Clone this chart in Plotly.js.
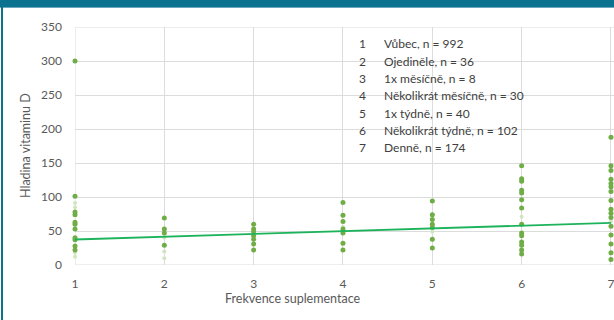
<!DOCTYPE html>
<html><head><meta charset="utf-8">
<script src="https://cdn.plot.ly/plotly-3.0.1.min.js"></script>
<style>
html,body{margin:0;padding:0;background:#fff;}
#wrap{position:relative;width:614px;height:320px;overflow:hidden;}
#chart{position:absolute;left:0;top:0;width:614px;height:320px;}
#topbar{position:absolute;left:0;top:0;width:614px;height:7px;background:#0b7290;border-bottom:1px solid #6aa9bd;pointer-events:none;}
#leftbar{position:absolute;left:1px;top:0;width:2px;height:320px;background:#0b7290;pointer-events:none;}
</style></head>
<body><div id="wrap"><div id="chart"></div><div id="topbar"></div><div id="leftbar"></div></div>
<script>
// Frekvence suplementace (1..7) and vitamin D levels
const freqSolid = [1,1,1,1,1,1,1,1,1,1,1,
  2,2,2,2,
  3,3,3,3,3,3,3,
  4,4,4,4,4,4,4,
  5,5,5,5,5,5,5,
  6,6,6,6,6,6,6,6,6,6,6,6,6,6,
  7,7,7,7,7,7,7,7,7,7,7,7,7,7,7,7];
const vitDSolid = [300,101,78,74,63,60,53,40,37,28,22,
  69,53,47,29,
  60,53,49,43,38,31,22,
  92,73,64,53,47,32,22,
  94,74,67,60,55,38,25,
  146,127,123,110,106,96,84,60,47,43,34,29,22,16,
  188,146,139,126,120,115,108,95,82,76,70,57,44,31,18,8];
const freqFaint = [1,1,1,1,2,2,2,4,5,6,7];
const vitDFaint = [91,85,18,12,40,20,10,56,49,71,64];
// Linear trend endpoints
const trendX = [1,7];
const trendY = [37.5,62];
// Legend box text
const legendNums = ["1","2","3","4","5","6","7"];
const legendLabels = ["Vůbec, n = 992","Ojediněle, n = 36","1x měsíčně, n = 8","Několikrát měsíčně, n = 30","1x týdně, n = 40","Několikrát týdně, n = 102","Denně, n = 174"];
const xTicks = [1,2,3,4,5,6,7];
const yTicks = [0,50,100,150,200,250,300,350];

const FONT = "Lato, 'Open Sans', sans-serif";
const L=75, T=27, B=55, PW=539, PH=238;
const traces = [
  {x:freqFaint, y:vitDFaint, type:'scatter', mode:'markers', marker:{color:'#cfe6c0', size:4}, cliponaxis:false, hoverinfo:'x+y'},
  {x:freqSolid, y:vitDSolid, type:'scatter', mode:'markers', marker:{color:'#70ad47', size:5}, cliponaxis:false, hoverinfo:'x+y'},
  {x:trendX, y:trendY, type:'scatter', mode:'lines', line:{color:'#1db35a', width:1.8}, cliponaxis:false}
];
const annotations = [];
const px2paperX = p => (p-L)/PW;
const px2paperY = p => (320-B-p)/PH;
legendNums.forEach((n,i)=>{
  const py = 44 + i*17.3;
  annotations.push({xref:'paper', yref:'paper', x:px2paperX(357), y:px2paperY(py), text:n, showarrow:false, xanchor:'left', yanchor:'middle', font:{family:FONT,size:12,color:'#404040'}});
  annotations.push({xref:'paper', yref:'paper', x:px2paperX(382), y:px2paperY(py), text:legendLabels[i], showarrow:false, xanchor:'left', yanchor:'middle', font:{family:FONT,size:12,color:'#404040'}});
});
annotations.push({xref:'paper', yref:'paper', x:px2paperX(293), y:px2paperY(298), text:'Frekvence suplementace', showarrow:false, xanchor:'center', yanchor:'middle', font:{family:FONT,size:12.5,color:'#595959'}});
annotations.push({xref:'paper', yref:'paper', x:px2paperX(25), y:0.5, text:'Hladina vitaminu D', textangle:-90, showarrow:false, xanchor:'center', yanchor:'middle', font:{family:FONT,size:12.5,color:'#595959'}});

const layout = {
  width:614, height:320,
  margin:{l:L, r:0, t:T, b:B, pad:0},
  paper_bgcolor:'rgba(0,0,0,0)', plot_bgcolor:'#fff',
  showlegend:false,
  font:{family:FONT, size:12, color:'#595959'},
  xaxis:{range:[1, 1+PW/89.33], tickvals:xTicks, ticktext:xTicks.map(String), showgrid:true, gridcolor:'#dcdcdc', gridwidth:1, zeroline:false, showline:false, ticks:'', ticklabelstandoff:10, ticklabeloverflow:'allow', tickfont:{family:FONT,size:12,color:'#595959'}, fixedrange:true},
  yaxis:{range:[0,350], tickvals:yTicks, ticktext:yTicks.map(String), showgrid:true, gridcolor:'#dcdcdc', gridwidth:1, zeroline:false, showline:false, ticks:'', ticklabelstandoff:12, ticklabeloverflow:'allow', tickfont:{family:FONT,size:12,color:'#595959'}, fixedrange:true},
  shapes:[
    {type:'line', xref:'x', yref:'paper', x0:1, x1:1, y0:0, y1:1, line:{color:'#dcdcdc', width:1}, layer:'below'},
    {type:'line', xref:'paper', yref:'y', x0:0, x1:1, y0:0, y1:0, line:{color:'#dcdcdc', width:1}, layer:'below'},
    {type:'line', xref:'paper', yref:'y', x0:0, x1:1, y0:350, y1:350, line:{color:'#dcdcdc', width:1}, layer:'below'}
  ],
  annotations:annotations
};
Plotly.newPlot('chart', traces, layout, {displayModeBar:false, staticPlot:true});
</script></body></html>
